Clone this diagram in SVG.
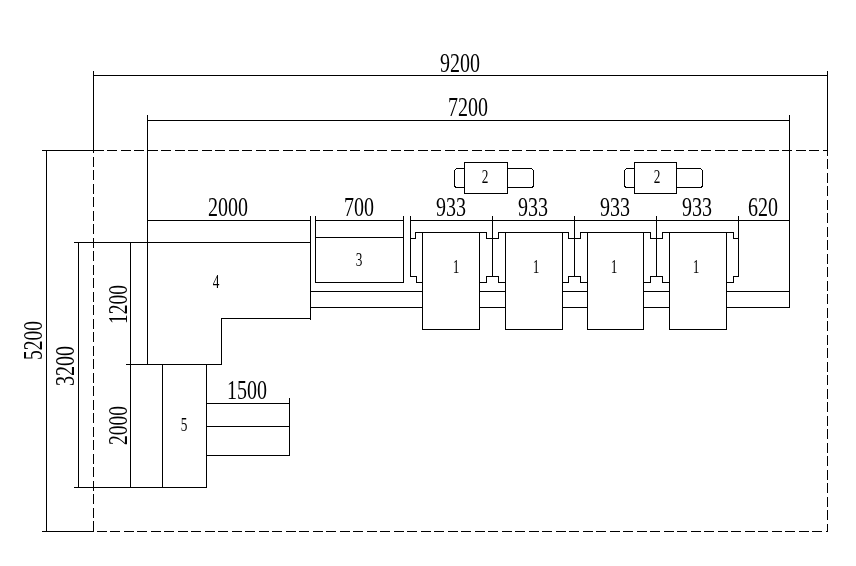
<svg xmlns="http://www.w3.org/2000/svg" width="856" height="566" viewBox="0 0 856 566">
<defs>
<style>
.l{fill:none;stroke:#000;stroke-width:1;shape-rendering:crispEdges}
.d{stroke-dasharray:10 3.5}
text{font-family:"Liberation Serif",serif;fill:#000}
.b{font-size:27px}
.s{font-size:19px;text-anchor:middle}
</style>
<path id="profile" class="l" d="M-7 0H0V6H12V0H19M-7 50H0V44H12V50H19"/>
</defs>
<rect width="856" height="566" fill="#fff"/>
<g id="connectors" transform="translate(.5 .5)">
<path class="l" d="M93 70V150M827 70V150M93 75H827M147 114V364M789 114V307M147 120H789"/>
<path class="l" d="M41 150H93M46 150V531M41 531H93"/>
<path class="l d" d="M93 150H827V531H93Z"/>
<path class="l" d="M73 242H310M78 242V487M130 242V487M73 487H206M125 364H147"/>
<path class="l" d="M147 220H310M315 220H403M410 220H789"/>
<path class="l" d="M310 215V319M315 215V237M403 215V237M410 215V276M492 215V276M574 215V276M656 215V276M738 215V276"/>
<path class="l" d="M310 291H422M310 307H422M479 291H505M479 307H505M562 291H587M562 307H587M643 291H669M643 307H669M726 291H789M726 307H789"/>
<path class="l" d="M410 238H415V232H422M410 276H416V282H422M726 232H733V238H738M726 282H733V276H738"/>
<use href="#profile" x="486" y="232"/>
<use href="#profile" x="568" y="232"/>
<use href="#profile" x="650" y="232"/>
</g>
<g id="node-1a" transform="translate(.5 .5)"><rect class="l" x="422" y="232" width="57" height="97"/></g>
<g id="node-1b" transform="translate(.5 .5)"><rect class="l" x="505" y="232" width="57" height="97"/></g>
<g id="node-1c" transform="translate(.5 .5)"><rect class="l" x="587" y="232" width="56" height="97"/></g>
<g id="node-1d" transform="translate(.5 .5)"><rect class="l" x="669" y="232" width="57" height="97"/></g>
<g id="node-2a" transform="translate(.5 .5)"><rect class="l" x="464" y="162" width="43" height="31"/><path class="l" d="M464 168H457Q454 168 454 171V184Q454 187 457 187H464M507 168H530Q533 168 533 171V184Q533 187 530 187H507"/></g>
<g id="node-2b" transform="translate(.5 .5)"><rect class="l" x="634" y="162" width="42" height="31"/><path class="l" d="M634 168H627Q624 168 624 171V184Q624 187 627 187H634M676 168H699Q702 168 702 171V184Q702 187 699 187H676"/></g>
<g id="node-3" transform="translate(.5 .5)"><path class="l" d="M315 237H403V282H315Z"/></g>
<g id="node-4" transform="translate(.5 .5)"><path class="l" d="M147 242H310V318H221V364H147Z"/></g>
<g id="node-5" transform="translate(.5 .5)"><path class="l" d="M162 364H206V487H162ZM206 403H289V455H206M206 426H289M289 397V455"/></g>
<g id="labels" opacity=".999">
<text class="b" x="440" y="72" textLength="40" lengthAdjust="spacingAndGlyphs">9200</text>
<text class="b" x="448" y="116" textLength="40" lengthAdjust="spacingAndGlyphs">7200</text>
<text class="b" x="208" y="216" textLength="40" lengthAdjust="spacingAndGlyphs">2000</text>
<text class="b" x="344" y="216" textLength="30" lengthAdjust="spacingAndGlyphs">700</text>
<text class="b" x="436" y="216" textLength="30" lengthAdjust="spacingAndGlyphs">933</text>
<text class="b" x="518" y="216" textLength="30" lengthAdjust="spacingAndGlyphs">933</text>
<text class="b" x="600" y="216" textLength="30" lengthAdjust="spacingAndGlyphs">933</text>
<text class="b" x="682" y="216" textLength="30" lengthAdjust="spacingAndGlyphs">933</text>
<text class="b" x="748" y="216" textLength="30" lengthAdjust="spacingAndGlyphs">620</text>
<text class="b" x="227" y="399" textLength="40" lengthAdjust="spacingAndGlyphs">1500</text>
<text class="b" transform="translate(42 360) rotate(-90)" textLength="39" lengthAdjust="spacingAndGlyphs">5200</text>
<text class="b" transform="translate(74 386) rotate(-90)" textLength="40" lengthAdjust="spacingAndGlyphs">3200</text>
<text class="b" transform="translate(127 324) rotate(-90)" textLength="39" lengthAdjust="spacingAndGlyphs">1200</text>
<text class="b" transform="translate(127 445) rotate(-90)" textLength="39" lengthAdjust="spacingAndGlyphs">2000</text>
<text class="s" transform="translate(485 183) scale(.7 1)">2</text>
<text class="s" transform="translate(657 183) scale(.7 1)">2</text>
<text class="s" transform="translate(456 273) scale(.7 1)">1</text>
<text class="s" transform="translate(536 273) scale(.7 1)">1</text>
<text class="s" transform="translate(614 273) scale(.7 1)">1</text>
<text class="s" transform="translate(696 273) scale(.7 1)">1</text>
<text class="s" transform="translate(359 266) scale(.7 1)">3</text>
<text class="s" transform="translate(216 288) scale(.7 1)">4</text>
<text class="s" transform="translate(184 431) scale(.7 1)">5</text>
</g>
</svg>
